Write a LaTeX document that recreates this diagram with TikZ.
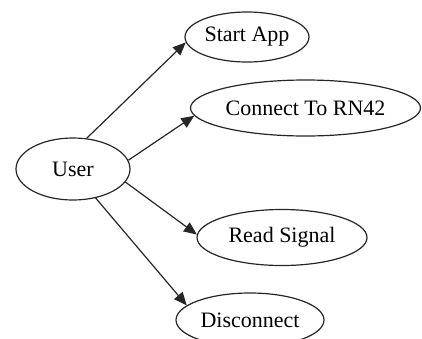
\documentclass[tikz,border=0pt]{standalone}
\usepackage{fontspec}
\setmainfont{Liberation Serif}
\usetikzlibrary{shapes.geometric,arrows.meta}
\begin{document}
\begin{tikzpicture}[x=1pt,y=-1pt,
  uc/.style={draw=black!85,line width=1.2pt,ellipse,inner sep=0pt,font=\fontsize{22}{24}\selectfont},
  link/.style={draw=black!85,line width=1.2pt,-{Triangle[length=13pt,width=11pt]}}]
\useasboundingbox (0,0) rectangle (422,338);
\clip (0,0) rectangle (422,338);
\node[uc,minimum width=114pt,minimum height=62pt] (u) at (73,169) {User};
\node[uc,minimum width=124pt,minimum height=50pt] (s) at (247,37) {Start App};
\node[uc,minimum width=230pt,minimum height=56pt] (c) at (305.5,108) {Connect To RN42};
\node[uc,minimum width=170pt,minimum height=56pt] (r) at (282,237.5) {Read Signal};
\node[uc,minimum width=148pt,minimum height=54pt] (d) at (250,320) {Disconnect};
\draw[link] (u.66) -- (s.185);
\draw[link] (u.9) -- (c.184.6);
\draw[link] (u.-14.6) -- (r.178.7);
\draw[link] (u.-52) -- (d.167);
\end{tikzpicture}
\end{document}
